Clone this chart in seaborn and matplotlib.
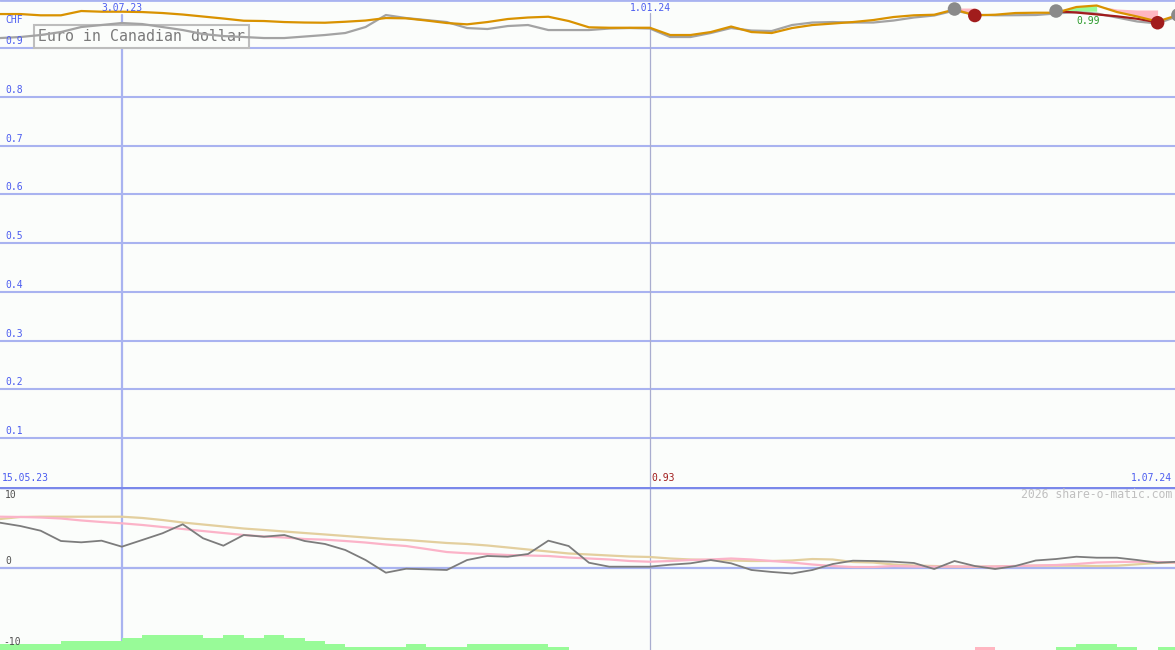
import numpy as np
import pandas as pd
import matplotlib
matplotlib.use("Agg")
import matplotlib.pyplot as plt
import seaborn as sns

# ---------------- data ----------------
dates = pd.date_range("2023-05-22", periods=59, freq="7D")

eur_price = [0.9697, 0.9697, 0.9671, 0.9671, 0.9759, 0.9745, 0.9745, 0.9738, 0.9718, 0.9687,
             0.9646, 0.9605, 0.9560, 0.9554, 0.9533, 0.9523, 0.9519, 0.9539, 0.9564, 0.9615,
             0.9609, 0.9564, 0.9513, 0.9486, 0.9533, 0.9595, 0.9626, 0.9642, 0.9554, 0.9425,
             0.9416, 0.9416, 0.9416, 0.9267, 0.9267, 0.9328, 0.9441, 0.9328, 0.9308, 0.9410,
             0.9472, 0.9502, 0.9533, 0.9574, 0.9636, 0.9671, 0.9683, 0.9790, 0.9671, 0.9683,
             0.9718, 0.9724, 0.9724, 0.9841, 0.9872, 0.9738, 0.9646, 0.9544, 0.9677]

benchmark = [0.9205, 0.9226, 0.9267, 0.9328, 0.9431, 0.9472, 0.9513, 0.9492, 0.9431, 0.9369,
             0.9287, 0.9246, 0.9226, 0.9205, 0.9205, 0.9236, 0.9267, 0.9308, 0.9431, 0.9677,
             0.9615, 0.9574, 0.9533, 0.9410, 0.9390, 0.9451, 0.9472, 0.9369, 0.9369, 0.9369,
             0.9400, 0.9410, 0.9400, 0.9226, 0.9226, 0.9308, 0.9410, 0.9359, 0.9349, 0.9472,
             0.9523, 0.9533, 0.9523, 0.9523, 0.9564, 0.9626, 0.9667, 0.9769, 0.9683, 0.9671,
             0.9673, 0.9677, 0.9708, 0.9738, 0.9708, 0.9626, 0.9544, 0.9503, 0.9656]

# trailing stop line (weeks 52..57)
stop_idx = [52, 53, 54, 55, 56, 57]
stop_line = [0.9755, 0.9728, 0.9690, 0.9650, 0.9600, 0.9525]

# signal markers
buy_idx = [47, 52, 58]
buy_val = [0.9800, 0.9759, 0.9677]
sell_idx = [48, 57]
sell_val = [0.9667, 0.9519]

# fill bands
gain_idx = [52, 53, 54]
gain_level = 0.9755
loss1_idx = [47, 48]
loss1_top = [0.9820, 0.9820]
loss2_idx = [54, 55, 56, 57]
loss2_top = [0.9872, 0.9800, 0.9780, 0.9780]

# lower indicator panel
momentum = [6.86, 6.36, 5.65, 4.09, 3.89, 4.14, 3.23, 4.24, 5.26, 6.62,
            4.50, 3.38, 5.00, 4.74, 5.00, 4.09, 3.64, 2.73, 1.21, -0.71,
            -0.11, -0.20, -0.30, 1.21, 1.82, 1.71, 2.12, 4.14, 3.33, 0.80,
            0.20, 0.20, 0.20, 0.50, 0.71, 1.21, 0.71, -0.30, -0.60, -0.83,
            -0.30, 0.60, 1.11, 1.06, 0.95, 0.76, -0.15, 1.06, 0.30, -0.15,
            0.30, 1.14, 1.36, 1.71, 1.56, 1.56, 1.21, 0.80, 0.95]

ma_short = [7.77, 7.73, 7.65, 7.50, 7.20, 6.97, 6.77, 6.52, 6.21, 5.91,
            5.60, 5.30, 5.00, 4.77, 4.62, 4.39, 4.29, 4.09, 3.86, 3.56,
            3.33, 2.88, 2.42, 2.23, 2.12, 1.97, 1.89, 1.82, 1.59, 1.44,
            1.29, 1.06, 0.95, 1.06, 1.21, 1.29, 1.44, 1.29, 1.06, 0.83,
            0.53, 0.30, 0.15, 0.15, 0.30, 0.23, 0.20, 0.23, 0.20, 0.23,
            0.30, 0.38, 0.45, 0.61, 0.83, 0.91, 0.95, 0.91, 0.83]

ma_long = [7.42, 7.73, 7.77, 7.77, 7.77, 7.77, 7.77, 7.58, 7.27, 6.89,
           6.59, 6.29, 5.98, 5.76, 5.53, 5.30, 5.08, 4.85, 4.62, 4.39,
           4.24, 4.02, 3.79, 3.64, 3.41, 3.11, 2.80, 2.50, 2.20, 2.05,
           1.89, 1.74, 1.67, 1.44, 1.29, 1.21, 1.14, 1.06, 1.06, 1.14,
           1.36, 1.29, 0.91, 0.83, 0.53, 0.38, 0.30, 0.23, 0.20, 0.23,
           0.30, 0.35, 0.35, 0.35, 0.30, 0.35, 0.56, 0.76, 0.83]

# signal histogram levels (+ green, - pink)
hist_level = [2, 2, 2, 3, 3, 3, 4, 5, 5, 5,
              4, 5, 4, 5, 4, 3, 2, 1, 1, 1,
              2, 1, 1, 2, 2, 2, 2, 1, 0, 0,
              0, 0, 0, 0, 0, 0, 0, 0, 0, 0,
              0, 0, 0, 0, 0, 0, 0, 0, -1, 0,
              0, 0, 1, 2, 2, 1, 0, 1, 0]

x_start, x_end = pd.Timestamp("2023-05-22"), pd.Timestamp("2024-06-30")
vlines = [pd.Timestamp("2023-07-03"), pd.Timestamp("2024-01-01")]
top_ticks = [0.1, 0.2, 0.3, 0.4, 0.5, 0.6, 0.7, 0.8, 0.9]

# ---------------- style ----------------
sns.set_style("white")
plt.rcParams["font.family"] = ["DejaVu Sans Mono", "DejaVu Sans"]

BG = "#fbfdfb"
GRID = "#a9b3f0"
DARKGRID = "#7a88ea"
TICK = "#4b5cf0"
ORANGE = "#d99200"
GRAY = "#a3a3a3"
MAROON = "#a11c1c"
MOM = "#7c7c7c"
PINK = "#fbb3c8"
TAN = "#e3cf9e"
GREEN = "#98fb98"
LPINK = "#ffb6c1"

W, H = 1175, 650
fig = plt.figure(figsize=(W / 100, H / 100), dpi=100, facecolor=BG)
top_h = 487
ax = fig.add_axes([0, (H - top_h) / H, 1, top_h / H])
axb = fig.add_axes([0, 0, 1, (H - top_h) / H])
for a in (ax, axb):
    a.set_facecolor(BG)
    for s in a.spines.values():
        s.set_visible(False)
    a.set_xticks([])
    a.set_yticks([])
    a.set_xlim(x_start, x_end)

# ---------- top panel ----------
ax.set_ylim(0.0, 0.9985)
for v in top_ticks:
    ax.axhline(v, color=GRID, lw=1.5, zorder=1)
    ax.annotate(f"{v:.1f}", xy=(0, v), xycoords=("axes fraction", "data"),
                xytext=(5, 2), textcoords="offset pixels", va="bottom", ha="left",
                fontsize=7, color=TICK, zorder=5)
ax.axhline(0.9985, color=GRID, lw=2, zorder=1)
ax.axvline(vlines[0], ymin=0, ymax=1 - 15 / top_h, color=GRID, lw=1.6, zorder=1)
ax.axvline(vlines[1], ymin=0, ymax=1 - 13 / top_h, color="#a9adcf", lw=0.9, zorder=1)

# title box (below the data lines, above the grid)
ax.text(38 / W, 1 - 36.5 / top_h, "Euro in Canadian dollar", transform=ax.transAxes,
        fontsize=10.7, color="#7a7a7a", ha="left", va="center", zorder=2.5,
        bbox=dict(boxstyle="square,pad=0.28", facecolor=BG, edgecolor="#bdbdbd", lw=1.5))

df = pd.DataFrame({"date": dates, "eur": eur_price, "bench": benchmark})

# fills
ax.fill_between(dates[loss1_idx], loss1_top, np.array(eur_price)[loss1_idx],
                color=LPINK, lw=0, zorder=2.6)
ax.fill_between(dates[loss2_idx], loss2_top, np.array(eur_price)[loss2_idx],
                color=LPINK, lw=0, zorder=2.6)
g_e = np.array(eur_price)[gain_idx]
ax.fill_between(dates[gain_idx], gain_level, g_e, where=g_e > gain_level,
                interpolate=True, color=GREEN, lw=0, zorder=2.6)

sns.lineplot(data=df, x="date", y="bench", ax=ax, color=GRAY, lw=1.6, zorder=3)
sns.lineplot(x=dates[stop_idx], y=stop_line, ax=ax, color=MAROON, lw=1.6, zorder=3)
sns.lineplot(data=df, x="date", y="eur", ax=ax, color=ORANGE, lw=1.6, zorder=4)
sns.scatterplot(x=dates[buy_idx], y=buy_val, ax=ax, color="#8a8a8a", s=95,
                edgecolor="none", zorder=5)
sns.scatterplot(x=dates[sell_idx], y=sell_val, ax=ax, color=MAROON, s=95,
                edgecolor="none", zorder=5)
ax.set_xlabel("")
ax.set_ylabel("")
ax.set_xlim(x_start, x_end)
ax.set_ylim(0.0, 0.9985)

# ---------- bottom panel ----------
b_lo, b_hi = -12.42, 12.27
axb.set_ylim(b_lo, b_hi)
axb.axhline(0, color=GRID, lw=1.6, zorder=1)
axb.axhline(b_hi, color=DARKGRID, lw=2.5, zorder=6)
axb.axvline(vlines[0], color=GRID, lw=1.6, zorder=1)
axb.axvline(vlines[1], color="#a9adcf", lw=0.9, zorder=1)

step = 3 / 6.6
lv = np.array(hist_level)
mask = lv != 0
axb.bar(dates[mask], np.abs(lv[mask]) * step, bottom=b_lo, width=7, align="edge",
        color=[GREEN if v > 0 else LPINK for v in lv[mask]], lw=0, zorder=2)

dfb = pd.DataFrame({"date": dates, "mom": momentum, "s": ma_short, "l": ma_long})
sns.lineplot(data=dfb, x="date", y="l", ax=axb, color=TAN, lw=1.6, zorder=3)
sns.lineplot(data=dfb, x="date", y="s", ax=axb, color=PINK, lw=1.6, zorder=3)
sns.lineplot(data=dfb, x="date", y="mom", ax=axb, color=MOM, lw=1.3, zorder=4)
axb.set_xlabel("")
axb.set_ylabel("")
axb.set_xlim(x_start, x_end)
axb.set_ylim(b_lo, b_hi)

# ---------- texts ----------
def ftext(x, y, s, **kw):
    fig.text(x / W, 1 - y / H, s, va="center", **kw)

ftext(5, 20, "CHF", fontsize=7, color=TICK, ha="left")
ftext(122, 8, "3.07.23", fontsize=7, color=TICK, ha="center")
ftext(650, 8, "1.01.24", fontsize=7, color=TICK, ha="center")
ftext(2, 478, "15.05.23", fontsize=7, color=TICK, ha="left")
ftext(1172, 478, "1.07.24", fontsize=7, color=TICK, ha="right")
ftext(651, 478, "0.93", fontsize=7, color=MAROON, ha="left")
ftext(1088, 21, "0.99", fontsize=7, color="#2a9a2a", ha="center")
ftext(1172, 495, "2026 share-o-matic.com", fontsize=8.3, color="#c0c0c0", ha="right")
ftext(5, 495, "10", fontsize=7, color="#505050", ha="left")
ftext(5, 561, "0", fontsize=7, color="#505050", ha="left")
ftext(3, 642, "-10", fontsize=7, color="#505050", ha="left")

fig.savefig("out.png", dpi=100, facecolor=BG)
